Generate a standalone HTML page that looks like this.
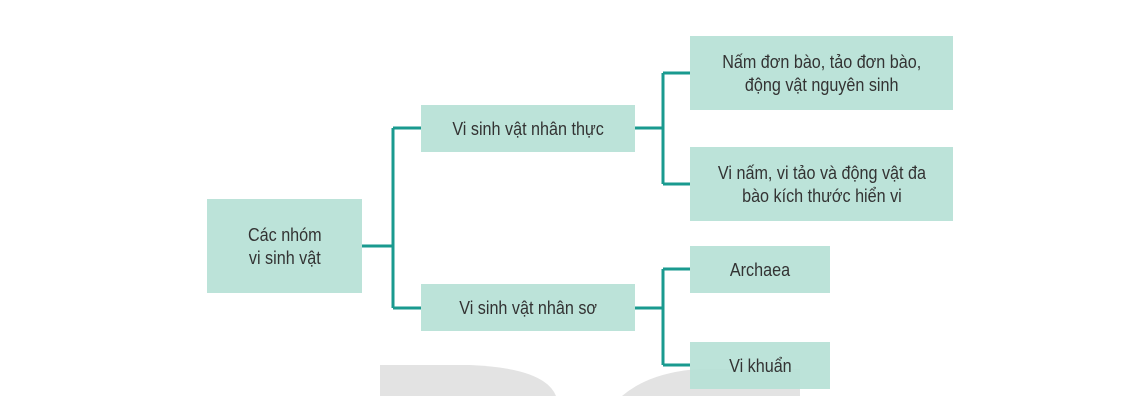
<!DOCTYPE html>
<html><head><meta charset="utf-8"><style>
body{margin:0;width:1122px;height:404px;background:#fff;position:relative;overflow:hidden;font-family:"Liberation Sans Narrow","Liberation Sans",sans-serif;}
.b{position:absolute;background:rgba(183,225,214,0.93);color:#333;font-size:18.8px;line-height:23px;display:flex;align-items:center;justify-content:center;text-align:center;}
.b span{display:inline-block;transform:scaleX(0.86);white-space:nowrap;}
svg{position:absolute;left:0;top:0;}
</style></head><body>
<svg width="1122" height="404">
<path d="M380 396 L380 365 L470 365 Q545 368 556 396 Z" fill="#e3e3e3"/>
<path d="M622 396 Q650 372 700 369 L800 369 L800 396 Z" fill="#e3e3e3"/>
<g stroke="#1a9a8f" stroke-width="3" fill="none">
<path d="M362 246 H393 M393 128 V308 M393 128 H421 M393 308 H421"/>
<path d="M635 128 H663 M663 73 V184 M663 73 H690 M663 184 H690"/>
<path d="M635 308 H663 M663 269 V365 M663 269 H690 M663 365 H690"/>
</g>
</svg>
<div class="b" style="left:207px;top:199px;width:155px;height:94px;"><span>Các nhóm<br>vi sinh vật</span></div>
<div class="b" style="left:421px;top:105px;width:214px;height:47px;"><span>Vi sinh vật nhân thực</span></div>
<div class="b" style="left:421px;top:284px;width:214px;height:47px;"><span>Vi sinh vật nhân sơ</span></div>
<div class="b" style="left:690px;top:36px;width:263px;height:74px;"><span>Nấm đơn bào, tảo đơn bào,<br>động vật nguyên sinh</span></div>
<div class="b" style="left:690px;top:147px;width:263px;height:74px;"><span>Vi nấm, vi tảo và động vật đa<br>bào kích thước hiển vi</span></div>
<div class="b" style="left:690px;top:246px;width:140px;height:47px;"><span>Archaea</span></div>
<div class="b" style="left:690px;top:342px;width:140px;height:47px;"><span>Vi khuẩn</span></div>
</body></html>
